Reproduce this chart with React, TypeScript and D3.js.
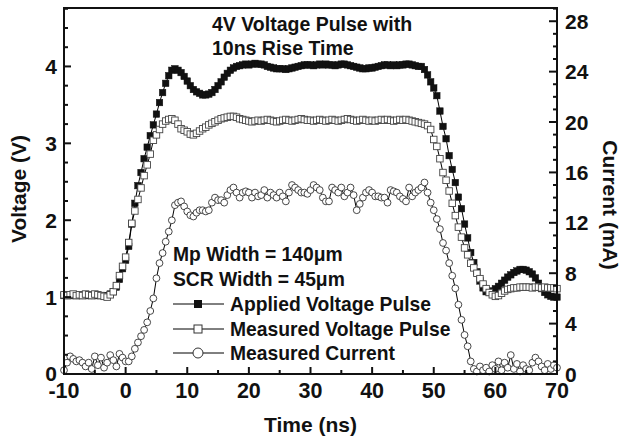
import React from "react";
import * as d3 from "d3";

// ---- data (time grid: -10 ns to 70 ns, 0.5 ns step) ----
const T_START = -10;
const T_END = 70;
const T_STEP = 0.5;

const appliedVoltage = [
  1.02, 1.02, 1.02, 1.02, 1.02, 1.02, 1.02, 1.02, 1.02, 1.02,
  1.02, 1.02, 1.02, 1.02, 1.02, 1.04, 1.07, 1.13, 1.23, 1.37,
  1.48, 1.66, 1.95, 2.22, 2.45, 2.62, 2.80, 2.95, 3.10, 3.24,
  3.38, 3.53, 3.66, 3.78, 3.88, 3.95, 3.97, 3.95, 3.92, 3.87,
  3.81, 3.75, 3.70, 3.67, 3.65, 3.63, 3.63, 3.64, 3.66, 3.70,
  3.75, 3.80, 3.86, 3.91, 3.95, 3.98, 4.00, 4.01, 4.02, 4.03,
  4.02, 4.03, 4.04, 4.03, 4.03, 4.02, 4.00, 3.99, 3.98, 3.97,
  3.97, 3.97, 3.96, 3.97, 3.98, 3.99, 4.00, 4.01, 4.02, 4.02,
  4.02, 4.01, 4.02, 4.03, 4.02, 4.03, 4.02, 4.02, 4.01, 4.02,
  4.03, 4.03, 4.02, 4.01, 4.00, 3.99, 3.98, 3.97, 3.97, 3.98,
  3.98, 3.99, 4.00, 4.01, 4.02, 4.02, 4.01, 4.02, 4.01, 4.02,
  4.02, 4.03, 4.03, 4.02, 4.01, 4.00, 4.00, 3.96, 3.89, 3.80,
  3.72, 3.62, 3.42, 3.22, 3.06, 2.84, 2.66, 2.49, 2.30, 2.15,
  1.95, 1.77, 1.58, 1.45, 1.33, 1.21, 1.12, 1.07, 1.06, 1.08,
  1.11, 1.14, 1.18, 1.22, 1.26, 1.29, 1.32, 1.34, 1.36, 1.36,
  1.35, 1.33, 1.30, 1.25, 1.18, 1.11, 1.06, 1.03, 1.01, 1.00,
  1.00,
];

const measuredVoltage = [
  1.03, 1.02, 1.03, 1.04, 1.02, 1.03, 1.02, 1.04, 1.03, 1.02,
  1.04, 1.03, 1.02, 1.01, 1.00, 1.03, 1.07, 1.15, 1.28, 1.40,
  1.52, 1.71, 1.96, 2.12, 2.27, 2.42, 2.58, 2.72, 2.86, 3.04,
  3.11, 3.18, 3.25, 3.29, 3.31, 3.32, 3.30, 3.25, 3.19, 3.17,
  3.15, 3.12, 3.11, 3.13, 3.16, 3.19, 3.21, 3.24, 3.26, 3.28,
  3.30, 3.32, 3.33, 3.34, 3.35, 3.35, 3.34, 3.32, 3.31, 3.30,
  3.29, 3.28, 3.29, 3.30, 3.29, 3.30, 3.31, 3.30, 3.29, 3.28,
  3.29, 3.30, 3.31, 3.30, 3.29, 3.30, 3.31, 3.32, 3.31, 3.30,
  3.30, 3.29, 3.30, 3.31, 3.30, 3.29, 3.30, 3.31, 3.30, 3.29,
  3.30, 3.31, 3.32, 3.31, 3.30, 3.29, 3.30, 3.31, 3.30, 3.29,
  3.30, 3.29, 3.30, 3.31, 3.30, 3.31, 3.30, 3.29, 3.30, 3.31,
  3.30, 3.31, 3.30, 3.29, 3.28, 3.27, 3.26, 3.25, 3.23, 3.18,
  3.05, 2.96, 2.80, 2.62, 2.52, 2.38, 2.22, 2.06, 1.91, 1.78,
  1.64, 1.55, 1.44, 1.38, 1.31, 1.24, 1.17, 1.11, 1.06, 1.03,
  1.01, 1.02, 1.05, 1.08, 1.10, 1.11, 1.12, 1.12, 1.13, 1.13,
  1.13, 1.13, 1.12, 1.13, 1.13, 1.12, 1.13, 1.12, 1.12, 1.12,
  1.11,
];

const measuredCurrent = [
  0.3, 0.9, 1.4, 1.2, 1.0, 1.1, 0.9, 0.6, 0.9, 0.4,
  1.4, 0.7, 1.3, 0.5, 0.9, 1.5, 1.1, 0.6, 1.6, 1.3,
  1.0, 1.0, 1.4, 2.0, 2.5, 3.0, 3.5, 4.1, 5.0, 6.0,
  7.6, 8.8, 9.6, 10.5, 11.3, 12.2, 13.4, 13.6, 13.7, 13.3,
  12.9, 12.6, 12.5, 12.8, 13.0, 13.0, 12.9, 13.0, 13.6, 14.0,
  13.8, 13.8, 13.6, 14.2, 14.6, 14.8, 14.4, 14.0, 14.4, 14.5,
  14.4, 14.0, 14.4, 14.1, 14.2, 14.6, 14.0, 14.4, 14.2, 14.0,
  14.4, 14.1, 13.7, 14.4, 15.0, 14.8, 14.6, 14.4, 14.4, 14.3,
  14.6, 15.0, 14.8, 14.6, 14.0, 13.7, 13.7, 14.8, 14.6, 14.4,
  14.8, 14.1, 14.4, 14.8, 14.2, 13.0, 13.5, 14.0, 14.4, 14.6,
  14.4, 14.1, 14.1, 14.0, 14.0, 13.6, 14.6, 14.5, 14.4, 14.1,
  13.9, 13.7, 14.8, 14.1, 14.4, 14.6, 14.8, 15.2, 14.4, 13.6,
  13.0, 12.3, 11.5, 10.4, 9.8, 8.8, 7.8, 6.8, 5.5, 4.3,
  3.1, 2.2, 1.0, 0.4, 0.2, 0.6, 0.3, 0.5, 0.2, 0.7,
  0.4, 1.0, 0.3, 0.9, 0.5, 1.5, 0.4, 0.8, 0.2, 0.7,
  0.4, 0.3, 0.9, 1.3, 1.0, 0.6, 0.3, 0.8, 0.4, 0.7,
  0.5,
];

const xTicks = [-10, 0, 10, 20, 30, 40, 50, 60, 70];
const yLeftTicks = [0, 1, 2, 3, 4];
const yRightTicks = [0, 4, 8, 12, 16, 20, 24, 28];

const titleLines = ["4V Voltage Pulse with", "10ns Rise Time"];
const noteLines = ["Mp Width = 140\u03bcm", "SCR Width = 45\u03bcm"];
const legendLabels = ["Applied Voltage Pulse", "Measured Voltage Pulse", "Measured Current"];

// ---- layout ----
const W = 621;
const H = 438;
const M = { left: 64, right: 557, top: 8, bottom: 374 };
const FONT = "'Liberation Sans', Arial, Helvetica, sans-serif";
const INK = "#111";

export default function App() {
  const time = d3.range(T_START, T_END + T_STEP / 2, T_STEP);
  const x = d3.scaleLinear().domain([-10, 70]).range([M.left, M.right]);
  const yV = d3.scaleLinear().domain([0, 4.76]).range([M.bottom, M.top]);
  const yI = d3.scaleLinear().domain([0, 29.05]).range([M.bottom, M.top]);

  const lineV = d3
    .line<number>()
    .x((_, i) => x(time[i]))
    .y((d) => yV(d));
  const lineI = d3
    .line<number>()
    .x((_, i) => x(time[i]))
    .y((d) => yI(d));

  const xMinor = d3.range(-10, 70.01, 5);
  const yLeftMinor = d3.range(0, 4.76, 0.25);
  const yRightMinor = d3.range(0, 29.01, 1);

  const sq = 6.5;
  const r = 3.4;

  const legendY = [304, 329, 353];

  return (
    <svg
      width={W}
      height={H}
      style={{ position: "absolute", left: 0, top: 0, background: "#fff" }}
      fontFamily={FONT}
    >
      <rect x={0} y={0} width={W} height={H} fill="#fff" />

      {/* series: applied voltage (filled squares) */}
      <path d={lineV(appliedVoltage) || ""} fill="none" stroke="#000" strokeWidth={1} />
      {appliedVoltage.map((v, i) => (
        <rect
          key={"a" + i}
          x={x(time[i]) - sq / 2}
          y={yV(v) - sq / 2}
          width={sq}
          height={sq}
          fill="#111"
          stroke="#111"
          strokeWidth={0.5}
        />
      ))}

      {/* series: measured voltage (open squares) */}
      <path d={lineV(measuredVoltage) || ""} fill="none" stroke="#000" strokeWidth={1} />
      {measuredVoltage.map((v, i) => (
        <rect
          key={"m" + i}
          x={x(time[i]) - sq / 2}
          y={yV(v) - sq / 2}
          width={sq}
          height={sq}
          fill="#fff"
          stroke="#444"
          strokeWidth={0.9}
        />
      ))}

      {/* series: measured current (open circles) */}
      <path d={lineI(measuredCurrent) || ""} fill="none" stroke="#000" strokeWidth={1} />
      {measuredCurrent.map((v, i) => (
        <circle
          key={"c" + i}
          cx={x(time[i])}
          cy={yI(v)}
          r={r}
          fill="#fff"
          stroke="#333"
          strokeWidth={0.9}
        />
      ))}

      {/* frame */}
      <rect
        x={M.left}
        y={M.top}
        width={M.right - M.left}
        height={M.bottom - M.top}
        fill="none"
        stroke="#111"
        strokeWidth={2}
      />

      {/* bottom ticks (inward) */}
      {xMinor.map((t) => {
        const major = xTicks.includes(t);
        return (
          <line
            key={"xt" + t}
            x1={x(t)}
            x2={x(t)}
            y1={M.bottom}
            y2={M.bottom - (major ? 7 : 4)}
            stroke="#111"
            strokeWidth={2}
          />
        );
      })}
      {xTicks.map((t) => (
        <text
          key={"xl" + t}
          x={x(t)}
          y={398}
          textAnchor="middle"
          fontSize={21.5}
          fontWeight="bold"
          fill={INK}
        >
          {t}
        </text>
      ))}

      {/* left ticks */}
      {yLeftMinor.map((v) => {
        const major = yLeftTicks.includes(v);
        return (
          <line
            key={"yl" + v}
            x1={M.left}
            x2={M.left + (major ? 7 : 4)}
            y1={yV(v)}
            y2={yV(v)}
            stroke="#111"
            strokeWidth={2}
          />
        );
      })}
      {yLeftTicks.map((v) => (
        <text
          key={"yll" + v}
          x={57}
          y={yV(v) - (v === 0 ? 1 : 0)}
          dy="0.36em"
          textAnchor="end"
          fontSize={21}
          fontWeight="bold"
          fill={INK}
        >
          {v}
        </text>
      ))}

      {/* right ticks */}
      {yRightMinor.map((v) => {
        const major = yRightTicks.includes(v);
        return (
          <line
            key={"yr" + v}
            x1={M.right}
            x2={M.right - (major ? 8 : 4)}
            y1={yI(v)}
            y2={yI(v)}
            stroke="#111"
            strokeWidth={2}
          />
        );
      })}
      {yRightTicks.map((v) => (
        <text
          key={"yrl" + v}
          x={565}
          y={yI(v)}
          dy="0.36em"
          textAnchor="start"
          fontSize={21}
          fontWeight="bold"
          fill={INK}
        >
          {v}
        </text>
      ))}

      {/* axis titles */}
      <text
        x={(M.left + M.right) / 2}
        y={432}
        textAnchor="middle"
        fontSize={21}
        fontWeight="bold"
        fill={INK}
      >
        Time (ns)
      </text>
      <text
        transform={`translate(26,${(M.top + M.bottom) / 2 - 2}) rotate(-90)`}
        textAnchor="middle"
        fontSize={21}
        fontWeight="bold"
        fill={INK}
      >
        Voltage (V)
      </text>
      <text
        transform={`translate(603,205) rotate(90)`}
        textAnchor="middle"
        fontSize={21}
        fontWeight="bold"
        fill={INK}
      >
        Current (mA)
      </text>

      {/* title */}
      {titleLines.map((s, i) => (
        <text key={"t" + i} x={212} y={31 + i * 23.5} fontSize={19.5} fontWeight="bold" fill={INK}>
          {s}
        </text>
      ))}

      {/* notes */}
      {noteLines.map((s, i) => (
        <text key={"n" + i} x={173} y={261 + i * 25} fontSize={19.3} fontWeight="bold" fill={INK}>
          {s}
        </text>
      ))}

      {/* legend */}
      {legendLabels.map((s, i) => (
        <g key={"lg" + i}>
          <line x1={173} x2={224} y1={legendY[i]} y2={legendY[i]} stroke="#000" strokeWidth={1} />
          {i === 0 && <rect x={194} y={legendY[i] - 4} width={8} height={8} fill="#111" />}
          {i === 1 && (
            <rect
              x={194}
              y={legendY[i] - 4}
              width={8}
              height={8}
              fill="#fff"
              stroke="#333"
              strokeWidth={1}
            />
          )}
          {i === 2 && (
            <circle cx={198} cy={legendY[i]} r={5} fill="#fff" stroke="#333" strokeWidth={1} />
          )}
          <text x={230} y={legendY[i] + 7} fontSize={19.3} fontWeight="bold" fill={INK}>
            {s}
          </text>
        </g>
      ))}
    </svg>
  );
}
